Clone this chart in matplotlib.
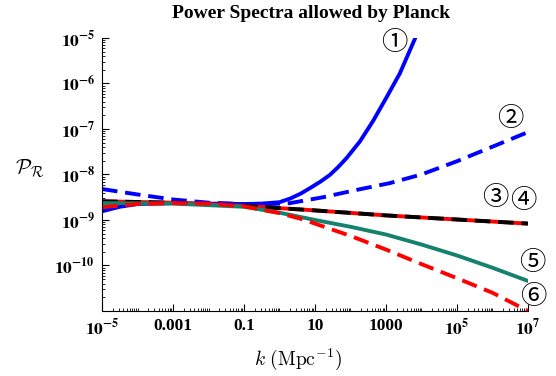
import numpy as np
import matplotlib
matplotlib.use("Agg")
import matplotlib.pyplot as plt
from matplotlib.ticker import LogLocator, FixedLocator, NullFormatter

plt.rcParams['mathtext.fontset'] = 'stix'
plt.rcParams['font.family'] = 'Liberation Serif'

# log10(k) and log10(P_R)
lk1 = [-5, -4.5, -4, -3, -2, -1, -0.5, 0, 0.3, 0.6, 0.86, 1.15, 1.42, 1.65, 1.89,
       2.27, 2.64, 3.02, 3.39, 3.82, 4.0]
lp1 = [-8.81, -8.71, -8.65, -8.63, -8.64, -8.65, -8.64, -8.61, -8.53, -8.42, -8.30,
       -8.16, -8.01, -7.84, -7.64, -7.27, -6.82, -6.30, -5.78, -5.01, -4.66]

lk2 = [-5, -4, -3, -2, -1, -0.5, 0.3, 1.23, 2.17, 3.11, 4, 5, 6, 7]
lp2 = [-8.32, -8.44, -8.55, -8.62, -8.65, -8.66, -8.63, -8.50, -8.34, -8.19, -8.00,
       -7.71, -7.39, -7.07]

lk34 = [-5, -3, -1, 1, 3, 5, 7]
lp34 = [-8.59, -8.62, -8.69, -8.79, -8.90, -8.99, -9.08]

lk5 = [-5, -3, -1, 0, 1, 2, 3, 4, 5, 6, 7]
lp5 = [-8.63, -8.64, -8.71, -8.84, -9.00, -9.15, -9.32, -9.54, -9.78, -10.05, -10.34]

lk6 = [-5, -4, -3, -2, -1, 0, 0.58, 1, 2, 3, 4, 5, 6, 7]
lp6 = [-8.72, -8.65, -8.63, -8.64, -8.70, -8.85, -8.97, -9.08, -9.35, -9.65, -9.97,
       -10.28, -10.60, -11.0]

xtick_vals = [1e-5, 1e-3, 1e-1, 1e1, 1e3, 1e5, 1e7]
xtick_labels = [r'$\mathbf{10^{-5}}$', '0.001', '0.1', '10', '1000',
                r'$\mathbf{10^{5}}$', r'$\mathbf{10^{7}}$']
ytick_vals = [1e-10, 1e-9, 1e-8, 1e-7, 1e-6, 1e-5]
ytick_labels = [r'$\mathbf{10^{-10}}$', r'$\mathbf{10^{-9}}$', r'$\mathbf{10^{-8}}$',
                r'$\mathbf{10^{-7}}$', r'$\mathbf{10^{-6}}$', r'$\mathbf{10^{-5}}$']

green = '#16826e'

fig = plt.figure(figsize=(5.56, 3.76), dpi=100)
ax = fig.add_axes([0.1835, 0.173, 0.766, 0.726])

def p(lk, lp):
    return 10.0 ** np.array(lk), 10.0 ** np.array(lp)

lw = 2.8
ax.plot(*p(lk1, lp1), color='blue', lw=lw)
ax.plot(*p(lk2, lp2), color='blue', lw=lw, dashes=(4, 2))
ax.plot(*p(lk34, lp34), color='red', lw=lw)
ax.plot(*p(lk34, lp34), color='black', lw=lw, dashes=(4, 2))
ax.plot(*p(lk5, lp5), color=green, lw=lw)
ax.plot(*p(lk6, lp6), color='red', lw=lw, dashes=(4, 2))

ax.set_xscale('log')
ax.set_yscale('log')
ax.set_xlim(1e-5, 1e7)
ax.set_ylim(1e-11, 1e-5)

for s in ['top', 'right']:
    ax.spines[s].set_visible(False)

ax.xaxis.set_major_locator(FixedLocator(xtick_vals))
ax.set_xticklabels(xtick_labels)
ax.yaxis.set_major_locator(FixedLocator(ytick_vals))
ax.set_yticklabels(ytick_labels)
ax.xaxis.set_minor_locator(LogLocator(base=10, subs=np.arange(1, 10), numticks=50))
ax.yaxis.set_minor_locator(LogLocator(base=10, subs=np.arange(2, 10), numticks=50))
ax.xaxis.set_minor_formatter(NullFormatter())
ax.yaxis.set_minor_formatter(NullFormatter())
ax.tick_params(which='major', direction='in', length=5, width=0.8, labelsize=12.5, pad=5)
ax.tick_params(which='minor', direction='in', length=2.5, width=0.6)
for lab in ax.get_xticklabels() + ax.get_yticklabels():
    lab.set_fontweight('bold')

fig.text(0.56, 0.965, 'Power Spectra allowed by Planck', ha='center', va='center',
         fontsize=14, fontweight='bold')
fig.text(0.054, 0.55, r'$\mathcal{P}_\mathcal{R}$', ha='center', va='center',
         fontsize=15, math_fontfamily='cm')
fig.text(0.536, 0.045, r'$k\ (\mathrm{Mpc}^{-1})$', ha='center', va='center',
         fontsize=14, math_fontfamily='cm')

circ_font = ['Noto Sans CJK JP', 'DejaVu Sans']
labels = [('\u2460', 394, 43), ('\u2461', 510, 118), ('\u2462', 495, 198),
          ('\u2463', 523, 200), ('\u2464', 532, 263), ('\u2465', 533, 297)]
for t, px, py in labels:
    fig.text(px / 556, 1 - py / 376, t, ha='center', va='center', fontsize=19,
             family=circ_font)

fig.savefig('out.png', dpi=100)
